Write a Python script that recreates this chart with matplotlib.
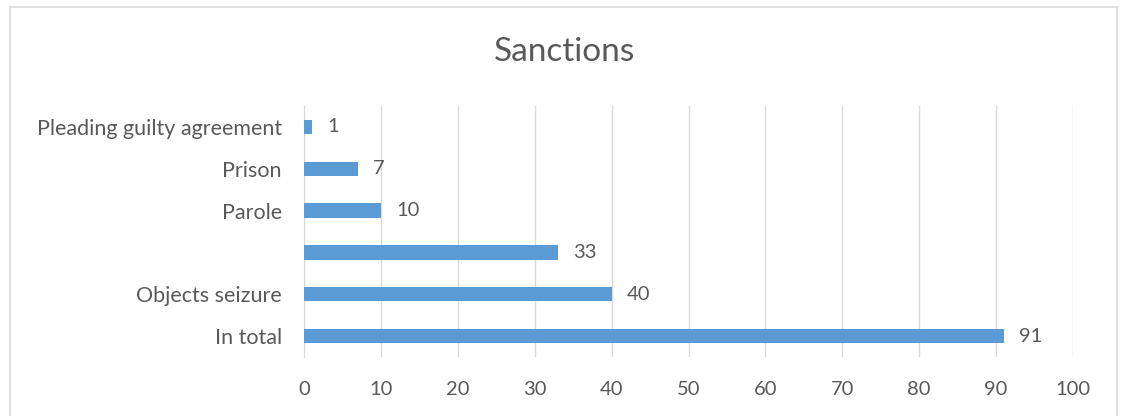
import matplotlib
matplotlib.use("Agg")
import matplotlib.pyplot as plt
from matplotlib.patches import Rectangle

categories = ["In total", "Objects seizure", "", "Parole", "Prison", "Pleading guilty agreement"]
values = [91, 40, 33, 10, 7, 1]
xticks = [0, 10, 20, 30, 40, 50, 60, 70, 80, 90, 100]

plt.rcParams['font.family'] = ['Lato', 'DejaVu Sans']
txt = '#595959'
W, H = 1121, 416
fig = plt.figure(figsize=(W/100, H/100), dpi=100)
fig.patches.append(Rectangle((10/W, -0.05), (1117-10)/W, 1.05 - 7/H, transform=fig.transFigure,
                             fill=False, edgecolor='#D9D9D9', linewidth=1.2))
ax = fig.add_axes([304/W, 1-357/H, (1073-304)/W, (357-106)/H])
y = list(range(len(categories)))
ax.barh(y, values, height=0.34, color='#5B9BD5', zorder=3)
fs = 14.5
for yi, v in zip(y, values):
    ax.text(v + 2.0, yi, str(v), va='center', ha='left', fontsize=fs, color=txt)
ax.set_yticks(y)
ax.set_yticklabels(categories, fontsize=15.5, color=txt)
ax.set_ylim(-0.5, len(categories) - 0.5)
ax.set_xlim(0, 100)
ax.set_xticks(xticks)
ax.set_xticklabels([str(t) for t in xticks], fontsize=fs, color=txt)
ax.grid(axis='x', color='#D9D9D9', linewidth=1, zorder=0)
for s in ['top', 'right', 'bottom']:
    ax.spines[s].set_visible(False)
ax.spines['left'].set_color('#D9D9D9')
ax.tick_params(axis='y', length=0, pad=16)
ax.tick_params(axis='x', length=0, pad=17)
fig.text(565/W, 1-52/H, "Sanctions", ha='center', va='center', fontsize=24, color=txt)
fig.savefig("out.png", dpi=100)
